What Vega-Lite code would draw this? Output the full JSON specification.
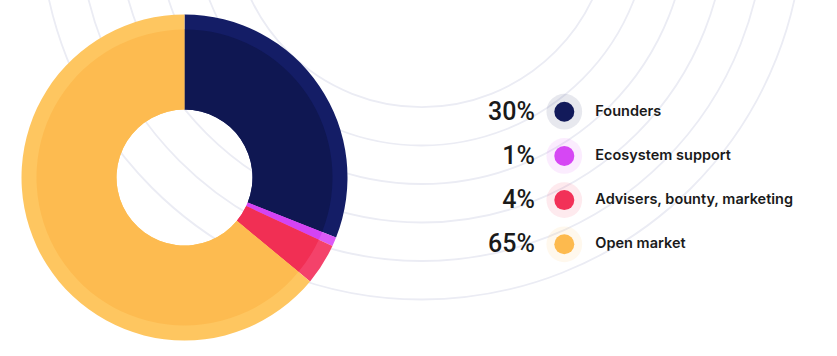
{
  "$schema": "https://vega.github.io/schema/vega-lite/v6.json",
  "width": 837,
  "height": 356,
  "autosize": {"type": "none"},
  "padding": 0,
  "background": "white",
  "config": {"view": {"stroke": null}},
  "datasets": {
    "shares": [
      {"name": "Founders", "value": 31, "pct": "30%", "idx": 1},
      {"name": "Ecosystem support", "value": 0.9, "pct": "1%", "idx": 2},
      {"name": "Advisers, bounty, marketing", "value": 4.1, "pct": "4%", "idx": 3},
      {"name": "Open market", "value": 64, "pct": "65%", "idx": 4}
    ],
    "rings": [{"r": 189}, {"r": 227.5}, {"r": 266}, {"r": 304.5}, {"r": 343}, {"r": 381.5}]
  },
  "resolve": {"scale": {"y": "independent", "color": "independent", "size": "independent", "theta": "independent"}},
  "layer": [
    {
      "data": {"name": "rings"},
      "mark": {"type": "point", "shape": "circle", "filled": false, "color": "#ebecf4", "strokeWidth": 1.8, "opacity": 1},
      "encoding": {
        "x": {"datum": 421.7, "type": "quantitative", "scale": {"domain": [0, 837], "nice": false, "zero": false}, "axis": null},
        "y": {"datum": -82, "type": "quantitative", "scale": {"domain": [0, 356], "reverse": true, "nice": false, "zero": false}, "axis": null},
        "size": {"field": "r", "type": "quantitative", "scale": {"type": "pow", "exponent": 2, "domain": [0, 400], "range": [0, 640000]}, "legend": null}
      }
    },
    {
      "data": {"name": "shares"},
      "mark": {"type": "arc", "radius": 163, "radius2": 68},
      "encoding": {
        "x": {"datum": 184.5, "type": "quantitative", "scale": {"domain": [0, 837], "nice": false, "zero": false}, "axis": null},
        "y": {"datum": 177.5, "type": "quantitative", "scale": {"domain": [0, 356], "reverse": true, "nice": false, "zero": false}, "axis": null},
        "theta": {"field": "value", "type": "quantitative", "stack": true},
        "order": {"field": "idx", "type": "quantitative"},
        "color": {"field": "name", "type": "nominal", "legend": null,
          "scale": {"domain": ["Founders", "Ecosystem support", "Advisers, bounty, marketing", "Open market"],
                    "range": ["#141d66", "#dc5af7", "#f4426a", "#fec660"]}}
      }
    },
    {
      "data": {"name": "shares"},
      "mark": {"type": "arc", "radius": 148, "radius2": 68},
      "encoding": {
        "x": {"datum": 184.5, "type": "quantitative", "scale": {"domain": [0, 837], "nice": false, "zero": false}, "axis": null},
        "y": {"datum": 177.5, "type": "quantitative", "scale": {"domain": [0, 356], "reverse": true, "nice": false, "zero": false}, "axis": null},
        "theta": {"field": "value", "type": "quantitative", "stack": true},
        "order": {"field": "idx", "type": "quantitative"},
        "color": {"field": "name", "type": "nominal", "legend": null,
          "scale": {"domain": ["Founders", "Ecosystem support", "Advisers, bounty, marketing", "Open market"],
                    "range": ["#0f1752", "#d443f3", "#f12f54", "#fdbb50"]}}
      }
    },
    {
      "data": {"name": "shares"},
      "mark": {"type": "point", "shape": "circle", "filled": true, "size": 1275, "opacity": 0.1},
      "encoding": {
        "x": {"datum": 564.3, "type": "quantitative", "scale": {"domain": [0, 837], "nice": false, "zero": false}, "axis": null},
        "y": {"field": "name", "type": "nominal", "axis": null,
          "scale": {"type": "point", "domain": ["Founders", "Ecosystem support", "Advisers, bounty, marketing", "Open market"], "range": [111.7, 244.3], "padding": 0}},
        "color": {"field": "name", "type": "nominal", "legend": null,
          "scale": {"domain": ["Founders", "Ecosystem support", "Advisers, bounty, marketing", "Open market"],
                    "range": ["#121a5a", "#d647f4", "#f23158", "#fdba4e"]}}
      }
    },
    {
      "data": {"name": "shares"},
      "mark": {"type": "point", "shape": "circle", "filled": true, "size": 400, "opacity": 1},
      "encoding": {
        "x": {"datum": 564.3, "type": "quantitative", "scale": {"domain": [0, 837], "nice": false, "zero": false}, "axis": null},
        "y": {"field": "name", "type": "nominal", "axis": null,
          "scale": {"type": "point", "domain": ["Founders", "Ecosystem support", "Advisers, bounty, marketing", "Open market"], "range": [111.7, 244.3], "padding": 0}},
        "color": {"field": "name", "type": "nominal", "legend": null,
          "scale": {"domain": ["Founders", "Ecosystem support", "Advisers, bounty, marketing", "Open market"],
                    "range": ["#121a5a", "#d647f4", "#f23158", "#fdba4e"]}}
      }
    },
    {
      "data": {"name": "shares"},
      "mark": {"type": "text", "align": "right", "baseline": "middle", "dx": -29.5, "font": "Roboto", "fontSize": 25, "fontWeight": 500, "color": "#1a1a1a"},
      "encoding": {
        "x": {"datum": 564.3, "type": "quantitative", "scale": {"domain": [0, 837], "nice": false, "zero": false}, "axis": null},
        "y": {"field": "name", "type": "nominal", "axis": null,
          "scale": {"type": "point", "domain": ["Founders", "Ecosystem support", "Advisers, bounty, marketing", "Open market"], "range": [111.7, 244.3], "padding": 0}},
        "text": {"field": "pct", "type": "nominal"}
      }
    },
    {
      "data": {"name": "shares"},
      "mark": {"type": "text", "align": "left", "baseline": "middle", "dx": 31, "font": "Inter", "fontSize": 14.5, "fontWeight": 600, "color": "#1a1a1a"},
      "encoding": {
        "x": {"datum": 564.3, "type": "quantitative", "scale": {"domain": [0, 837], "nice": false, "zero": false}, "axis": null},
        "y": {"field": "name", "type": "nominal", "axis": null,
          "scale": {"type": "point", "domain": ["Founders", "Ecosystem support", "Advisers, bounty, marketing", "Open market"], "range": [111.7, 244.3], "padding": 0}},
        "text": {"field": "name", "type": "nominal"}
      }
    }
  ]
}
